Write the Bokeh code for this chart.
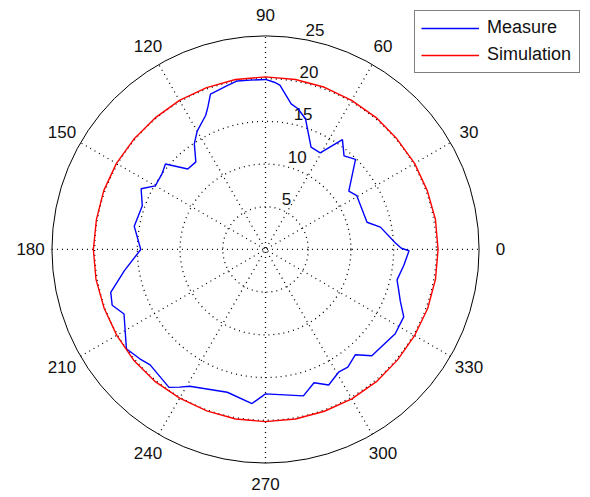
import numpy as np
from bokeh.plotting import figure
from bokeh.models import Range1d, Legend, LegendItem
from bokeh.core.properties import value
from bokeh.embed import file_html
from bokeh.resources import INLINE

# Measured radiation pattern: angle (deg) and magnitude
measure_angle = [0.5, 3, 11, 15, 30.5, 35, 45, 50, 55, 60.5, 66, 73, 77, 80, 85, 87,
                 90, 95, 99.5, 103, 109.5, 112, 114, 120, 124, 128.5, 134, 139.5, 144,
                 150, 154, 160.5, 170, 180, 188.5, 195.5, 200, 204.5, 215.5, 221, 225,
                 235, 238, 241, 255, 265, 270, 284.5, 290, 295, 301, 305, 310.5, 315,
                 327, 334, 339, 343, 347, 353.5, 359.5]
measure_r = [15.9, 15.2, 13.7, 12.3, 12.4, 11.9, 14.9, 14.3, 15.7, 13.0, 13.1, 16.0, 16.9,
             17.3, 19.3, 19.6, 19.9, 19.9, 20.0, 19.7, 19.3, 18.0, 17.2, 16.0, 14.9, 13.1,
             13.1, 15.4, 15.0, 14.9, 16.2, 15.3, 15.6, 14.6, 16.7, 18.8, 19.1, 18.2, 20.0,
             19.5, 19.1, 19.7, 19.0, 18.3, 17.3, 18.1, 16.9, 17.7, 16.6, 17.5, 16.7, 16.8,
             16.2, 17.6, 18.1, 18.0, 16.9, 16.3, 15.8, 16.3, 16.8]

# Simulated pattern, every 10 degrees
sim_angle = list(range(0, 361, 10))
sim_r = [20.2, 20.2, 20.15, 20.15, 20.1, 20.15, 20.15, 20.2, 20.2, 20.2,
         20.2, 20.15, 20.15, 20.1, 20.1, 20.15, 20.15, 20.1, 20.15, 20.15,
         20.1, 20.1, 20.15, 20.15, 20.1, 20.1, 20.15, 20.15, 20.15, 20.15,
         20.2, 20.2, 20.15, 20.15, 20.2, 20.2, 20.2]

angle_ticks = [0, 30, 60, 90, 120, 150, 180, 210, 240, 270, 300, 330]
radial_ticks = [5, 10, 15, 20, 25]
r_max = radial_ticks[-1]
FONT = "Liberation Sans"


def to_xy(angles, radii):
    t = np.deg2rad(np.asarray(angles, dtype=float))
    r = np.asarray(radii, dtype=float)
    return r * np.cos(t), r * np.sin(t)


p = figure(width=590, height=497, x_range=Range1d(-31.02, 38.04),
           y_range=Range1d(-29.03, 29.14), output_backend="svg",
           toolbar_location=None, min_border=0,
           x_axis_location=None, y_axis_location=None)
p.grid.visible = False
p.outline_line_color = None
p.background_fill_color = "white"
p.border_fill_color = "white"

# dotted rings and spokes
n_in = len(radial_ticks) - 1
p.circle(x=[0] * n_in, y=[0] * n_in, radius=radial_ticks[:-1], fill_color=None,
         line_color="black", line_width=1.3, line_dash="1 4")
half = np.deg2rad(np.asarray(angle_ticks[:6], dtype=float))
p.segment(x0=-r_max * np.cos(half), y0=-r_max * np.sin(half),
          x1=r_max * np.cos(half), y1=r_max * np.sin(half),
          line_color="black", line_width=1.3, line_dash="1 4")
# outer boundary
p.circle(x=[0], y=[0], radius=[r_max], fill_color=None, line_color="black", line_width=1)

# angle labels
lx, ly = to_xy(angle_ticks, [r_max * 1.1] * len(angle_ticks))
p.text(x=lx, y=ly, text=[str(a) for a in angle_ticks], text_align="center",
       text_baseline="middle", text_font=value(FONT), text_font_size="17px",
       text_color="#111111")

# radial labels along 82 degrees
rx, ry = to_xy([82] * len(radial_ticks), [r + 0.25 for r in radial_ticks])
p.text(x=rx, y=ry, text=[str(r) for r in radial_ticks], text_align="left",
       text_baseline="bottom", x_offset=10, text_font=value(FONT),
       text_font_size="17px", text_color="#111111")

# data
mx, my = to_xy(measure_angle + measure_angle[:1], measure_r + measure_r[:1])
sx, sy = to_xy(sim_angle, sim_r)
blue = p.line(mx, my, line_color="#0000FF", line_width=1.4)
red = p.line(sx, sy, line_color="#FF0000", line_width=1.4)

legend = Legend(items=[LegendItem(label="Measure", renderers=[blue]),
                       LegendItem(label="Simulation", renderers=[red])],
                location=(414, 424.5), margin=0, padding=6, spacing=5,
                glyph_width=58, glyph_height=22, label_height=22, label_standoff=8,
                label_width=86,
                label_text_font=FONT, label_text_font_size="18px",
                label_text_color="#111111",
                border_line_color="black", border_line_width=1,
                background_fill_color="white", background_fill_alpha=1)
p.add_layout(legend)

open("out.html", "w").write(file_html(p, INLINE))
